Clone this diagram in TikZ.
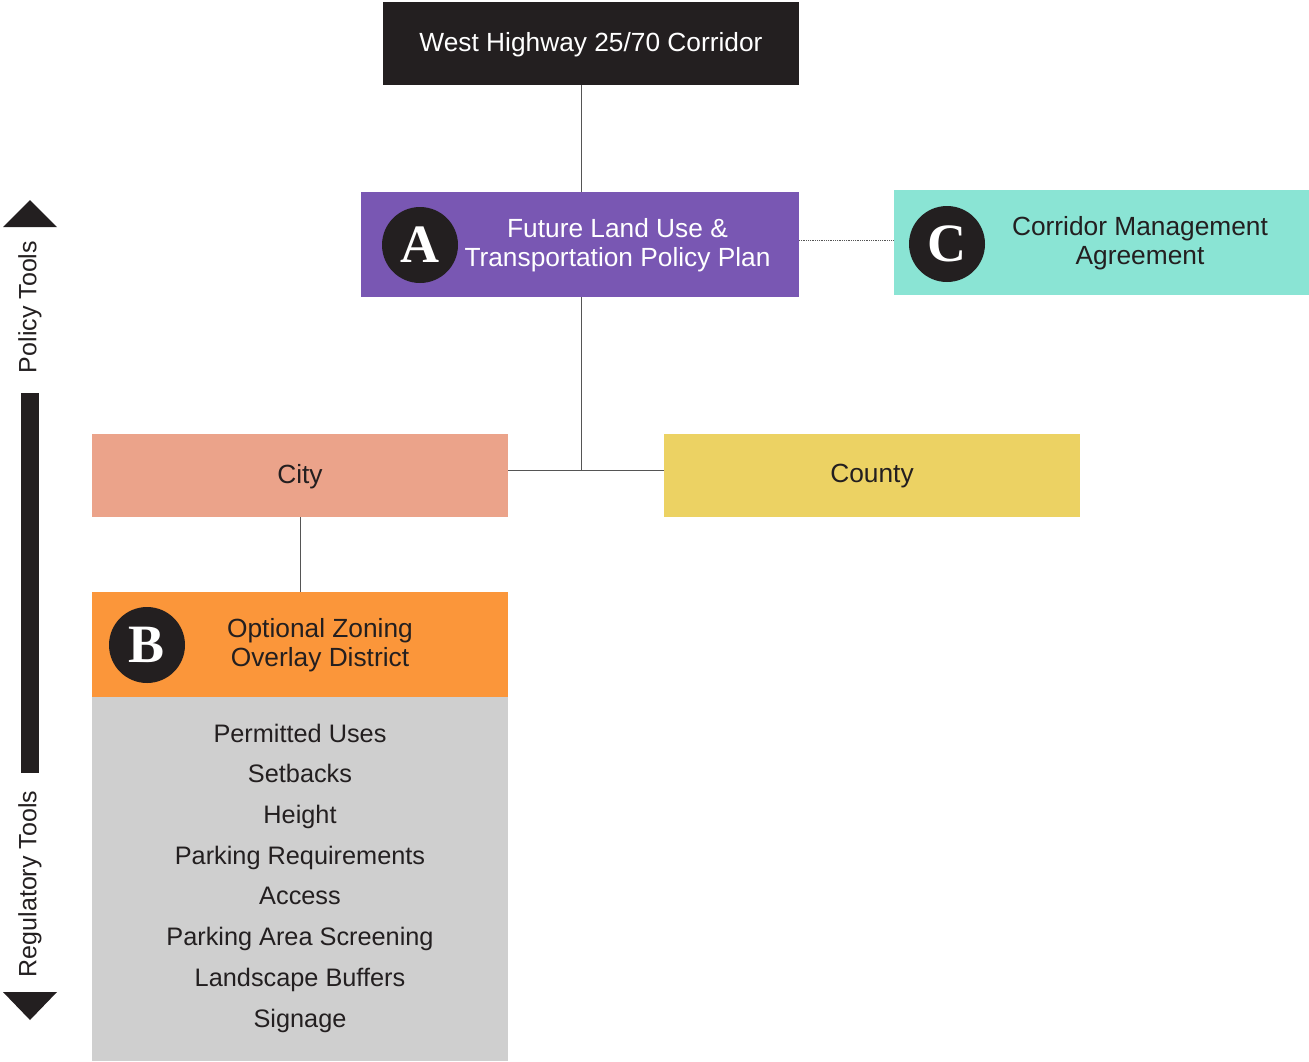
\documentclass[tikz,border=0pt]{standalone}
\usepackage{fontspec}
\newfontfamily\sansf{Liberation Sans}
\newfontfamily\seriff{Liberation Serif}
\definecolor{ink}{HTML}{231F20}
\definecolor{purp}{HTML}{7957B3}
\definecolor{teal}{HTML}{8AE4D4}
\definecolor{salmon}{HTML}{EBA38A}
\definecolor{yell}{HTML}{ECD263}
\definecolor{orng}{HTML}{FB963A}
\definecolor{lgray}{HTML}{CFCFCF}
\definecolor{linec}{HTML}{555555}
\begin{document}
\begin{tikzpicture}[x=1pt,y=-1pt,
  box/.style={rectangle, inner sep=0pt, outer sep=0pt, minimum width=416pt, minimum height=83pt},
  txt/.style={font=\sansf\fontsize{26.3}{29}\selectfont, text=ink, align=center, inner sep=0pt},
  badge/.style={circle, fill=ink, minimum size=76pt, inner sep=0pt, text=white, font=\seriff\bfseries\fontsize{54}{54}\selectfont},
  conn/.style={draw=linec, line width=0.9pt},
  dotconn/.style={draw=linec, line width=0.8pt, densely dotted},
]
\useasboundingbox (0,0) rectangle (1309,1061);
% boxes
\node[box, fill=ink, minimum width=416pt, minimum height=83pt] (top) at (591,43.5) {};
\node[txt, text=white] (toptxt) at (591,44.5) {West Highway 25/70 Corridor};
\node[box, fill=purp, minimum width=438pt, minimum height=105pt] (A) at (580,244.5) {};
\node[txt, text=white] (Atxt) at (617.5,245.5) {Future Land Use \&\\Transportation Policy Plan};
\node[badge] (Ab) at (420,245) {A};
\node[box, fill=teal, minimum width=415pt, minimum height=105pt] (C) at (1101.5,242.5) {};
\node[txt] (Ctxt) at (1140,243.5) {Corridor Management\\Agreement};
\node[badge] (Cb) at (947,244) {C};
\node[box, fill=salmon] (city) at (300,475.5) {};
\node[txt] (citytxt) at (300,476.5) {City};
\node[box, fill=yell] (county) at (872,475.5) {};
\node[txt] (countytxt) at (872,476.5) {County};
\node[box, fill=orng, minimum height=105pt] (B) at (300,644.5) {};
\node[txt] (Btxt) at (320,645.5) {Optional Zoning\\Overlay District};
\node[badge] (Bb) at (147,645) {B};
\node[box, fill=lgray, minimum height=364pt] (list) at (300,879) {};
\node[txt, font=\sansf\fontsize{25.3}{40.7}\selectfont] (listtxt) at (300,878) {Permitted Uses\\Setbacks\\Height\\Parking Requirements\\Access\\Parking Area Screening\\Landscape Buffers\\Signage};
% connectors
\coordinate (junc) at (581,470);
\draw[conn] (top.south -| junc) -- (A.north -| junc);
\draw[conn] (A.south -| junc) -- (junc);
\draw[conn] (city.east |- junc) -- (county.west |- junc);
\draw[conn] (city.south) -- (B.north);
\coordinate (dl) at (0,240);
\draw[dotconn] (A.east |- dl) -- (C.west |- dl);
% left scale
\fill[ink] (3,227) -- (30,200) -- (57,227) -- cycle;
\fill[ink] (3,992) -- (30,1020) -- (57,992) -- cycle;
\fill[ink] (21,393) rectangle (39,773);
\node[txt, rotate=90, font=\sansf\fontsize{25}{28}\selectfont] (pol) at (30,307) {Policy Tools};
\node[txt, rotate=90, font=\sansf\fontsize{25}{28}\selectfont] (reg) at (30,884) {Regulatory Tools};
\end{tikzpicture}
\end{document}
